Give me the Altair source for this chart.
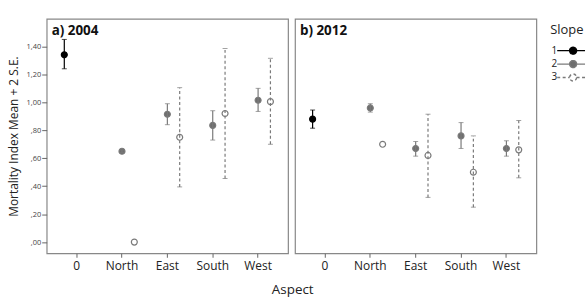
import altair as alt
import pandas as pd

# ---- data ----
year   = ["2004"] * 9 + ["2012"] * 9
aspect = ["0", "North", "North", "East", "East", "South", "South", "West", "West"] * 2
slope  = [1, 2, 3, 2, 3, 2, 3, 2, 3] * 2
mean   = [1.34, 0.65, 0.00, 0.915, 0.75, 0.835, 0.92, 1.015, 1.005,
          0.88, 0.96, 0.70, 0.67, 0.62, 0.76, 0.50, 0.67, 0.66]
lower  = [1.24, 0.64, None, 0.84, 0.395, 0.73, 0.455, 0.935, 0.70,
          0.815, 0.93, None, 0.615, 0.32, 0.67, 0.25, 0.615, 0.46]
upper  = [1.45, 0.66, None, 0.99, 1.105, 0.94, 1.385, 1.10, 1.315,
          0.945, 0.99, None, 0.72, 0.915, 0.855, 0.76, 0.725, 0.87]

aspect_order = ["0", "North", "East", "South", "West"]
slope_levels = [1, 2, 3]
y_ticks = [0.0, 0.2, 0.4, 0.6, 0.8, 1.0, 1.2, 1.4]

df = pd.DataFrame({"year": year, "aspect": aspect, "slope": slope,
                   "mean": mean, "lower": lower, "upper": upper})

FONT = "Open Sans"
# legend symbol: a short line with a circle in the middle, drawn to the right of the label
SYMBOL = ("M0.5,0L3.625,0M5.375,0L7.5,0"
          "M5.375,0A0.875,0.875,0,1,1,3.625,0A0.875,0.875,0,1,1,5.375,0")
legend = alt.Legend(
    title="Slope",
    orient="none", legendX=507, legendY=5,
    symbolType=SYMBOL,
    symbolSize=64, symbolStrokeWidth=1.4, rowPadding={"expr": "-0.5"}, symbolOffset=0,
    labelAlign="right", labelOffset={"expr": "-3"}, padding=0,
    titleFontSize=13, titleFontWeight="normal", titleColor="#222",
    labelFontSize=10, labelColor="#222", titlePadding=9,
)

fill_scale = alt.Scale(domain=slope_levels, range=["#000000", "#6e6e6e", "#ffffff"])
stroke_scale = alt.Scale(domain=slope_levels, range=["#000000", "#7a7a7a", "#7a7a7a"])
dash_scale = alt.Scale(domain=slope_levels, range=[[1, 0], [1, 0], [3, 2.5]])
y_scale = alt.Scale(domain=[-0.08, 1.597], nice=False, zero=False)
x_scale = alt.Scale(domain=aspect_order, paddingInner=0, paddingOuter=0.16)
xo_scale = alt.Scale(domain=slope_levels, type="point", padding=0.84)


def panel(yr, label, show_y):
    base = alt.Chart(df).transform_filter(alt.datum.year == yr)
    xaxis = alt.Axis(title=None, labelFontSize=12, labelColor="#222", tickColor="#666",
                     tickSize=4, domain=False, labelPadding=3, labelAngle=0)
    if show_y:
        yaxis = alt.Axis(title="Mortality Index Mean + 2 S.E.", values=y_ticks,
                         labelExpr="datum.value < 1 ? replace(format(datum.value, '.2f'), '0.', ',') : replace(format(datum.value, '.2f'), '.', ',')",
                         labelFontSize=7.5, labelColor="#444", tickColor="#666", tickSize=5,
                         labelPadding=1, labelOverlap=False, domain=False, grid=False,
                         titleFontSize=12, titleFontWeight="normal", titleColor="#222",
                         titleX=-26)
    else:
        yaxis = None
    x = alt.X("aspect:N", scale=x_scale, axis=xaxis, sort=aspect_order)
    xo = alt.XOffset("slope:N", scale=xo_scale)
    pts = base.mark_point(filled=False, size=36, strokeWidth=1.2, opacity=1).encode(
        x=x, xOffset=xo, y=alt.Y("mean:Q", scale=y_scale, axis=yaxis),
        fill=alt.Fill("slope:N", scale=fill_scale, legend=legend),
        stroke=alt.Stroke("slope:N", scale=stroke_scale, legend=legend),
    )
    bars = base.transform_filter("isValid(datum.lower)").mark_rule(strokeWidth=1.2).encode(
        x=x, xOffset=xo,
        y=alt.Y("lower:Q", scale=y_scale, axis=yaxis),
        y2="upper:Q",
        stroke=alt.Stroke("slope:N", scale=stroke_scale, legend=legend),
        strokeDash=alt.StrokeDash("slope:N", scale=dash_scale, legend=legend),
    )
    cap_lo = base.transform_filter("isValid(datum.lower)").mark_tick(size=5, thickness=1).encode(
        x=x, xOffset=xo, y=alt.Y("lower:Q", scale=y_scale, axis=yaxis),
        color=alt.Color("slope:N", scale=stroke_scale, legend=None),
    )
    cap_hi = base.transform_filter("isValid(datum.upper)").mark_tick(size=5, thickness=1).encode(
        x=x, xOffset=xo, y=alt.Y("upper:Q", scale=y_scale, axis=yaxis),
        color=alt.Color("slope:N", scale=stroke_scale, legend=None),
    )
    return alt.layer(pts, bars, cap_lo, cap_hi).properties(
        width=243, height=236,
        title=alt.TitleParams(label, anchor="start", frame="group", offset=-19, dx=5,
                              fontSize=13.5, fontWeight="bold", color="#111"),
    )


chart = alt.hconcat(panel("2004", "a) 2004", True), panel("2012", "b) 2012", False), spacing=5).properties(
    title=alt.TitleParams("Aspect", orient="bottom", anchor="middle", fontSize=13.5,
                          fontWeight="normal", color="#222", offset=11, dx=-5),
    padding={"left": 7, "top": 17, "right": 0, "bottom": 0},
).configure(font=FONT).configure_view(stroke="#888", strokeWidth=1.2)

chart.save("out.html", embed_options={"renderer": "svg", "actions": False})
